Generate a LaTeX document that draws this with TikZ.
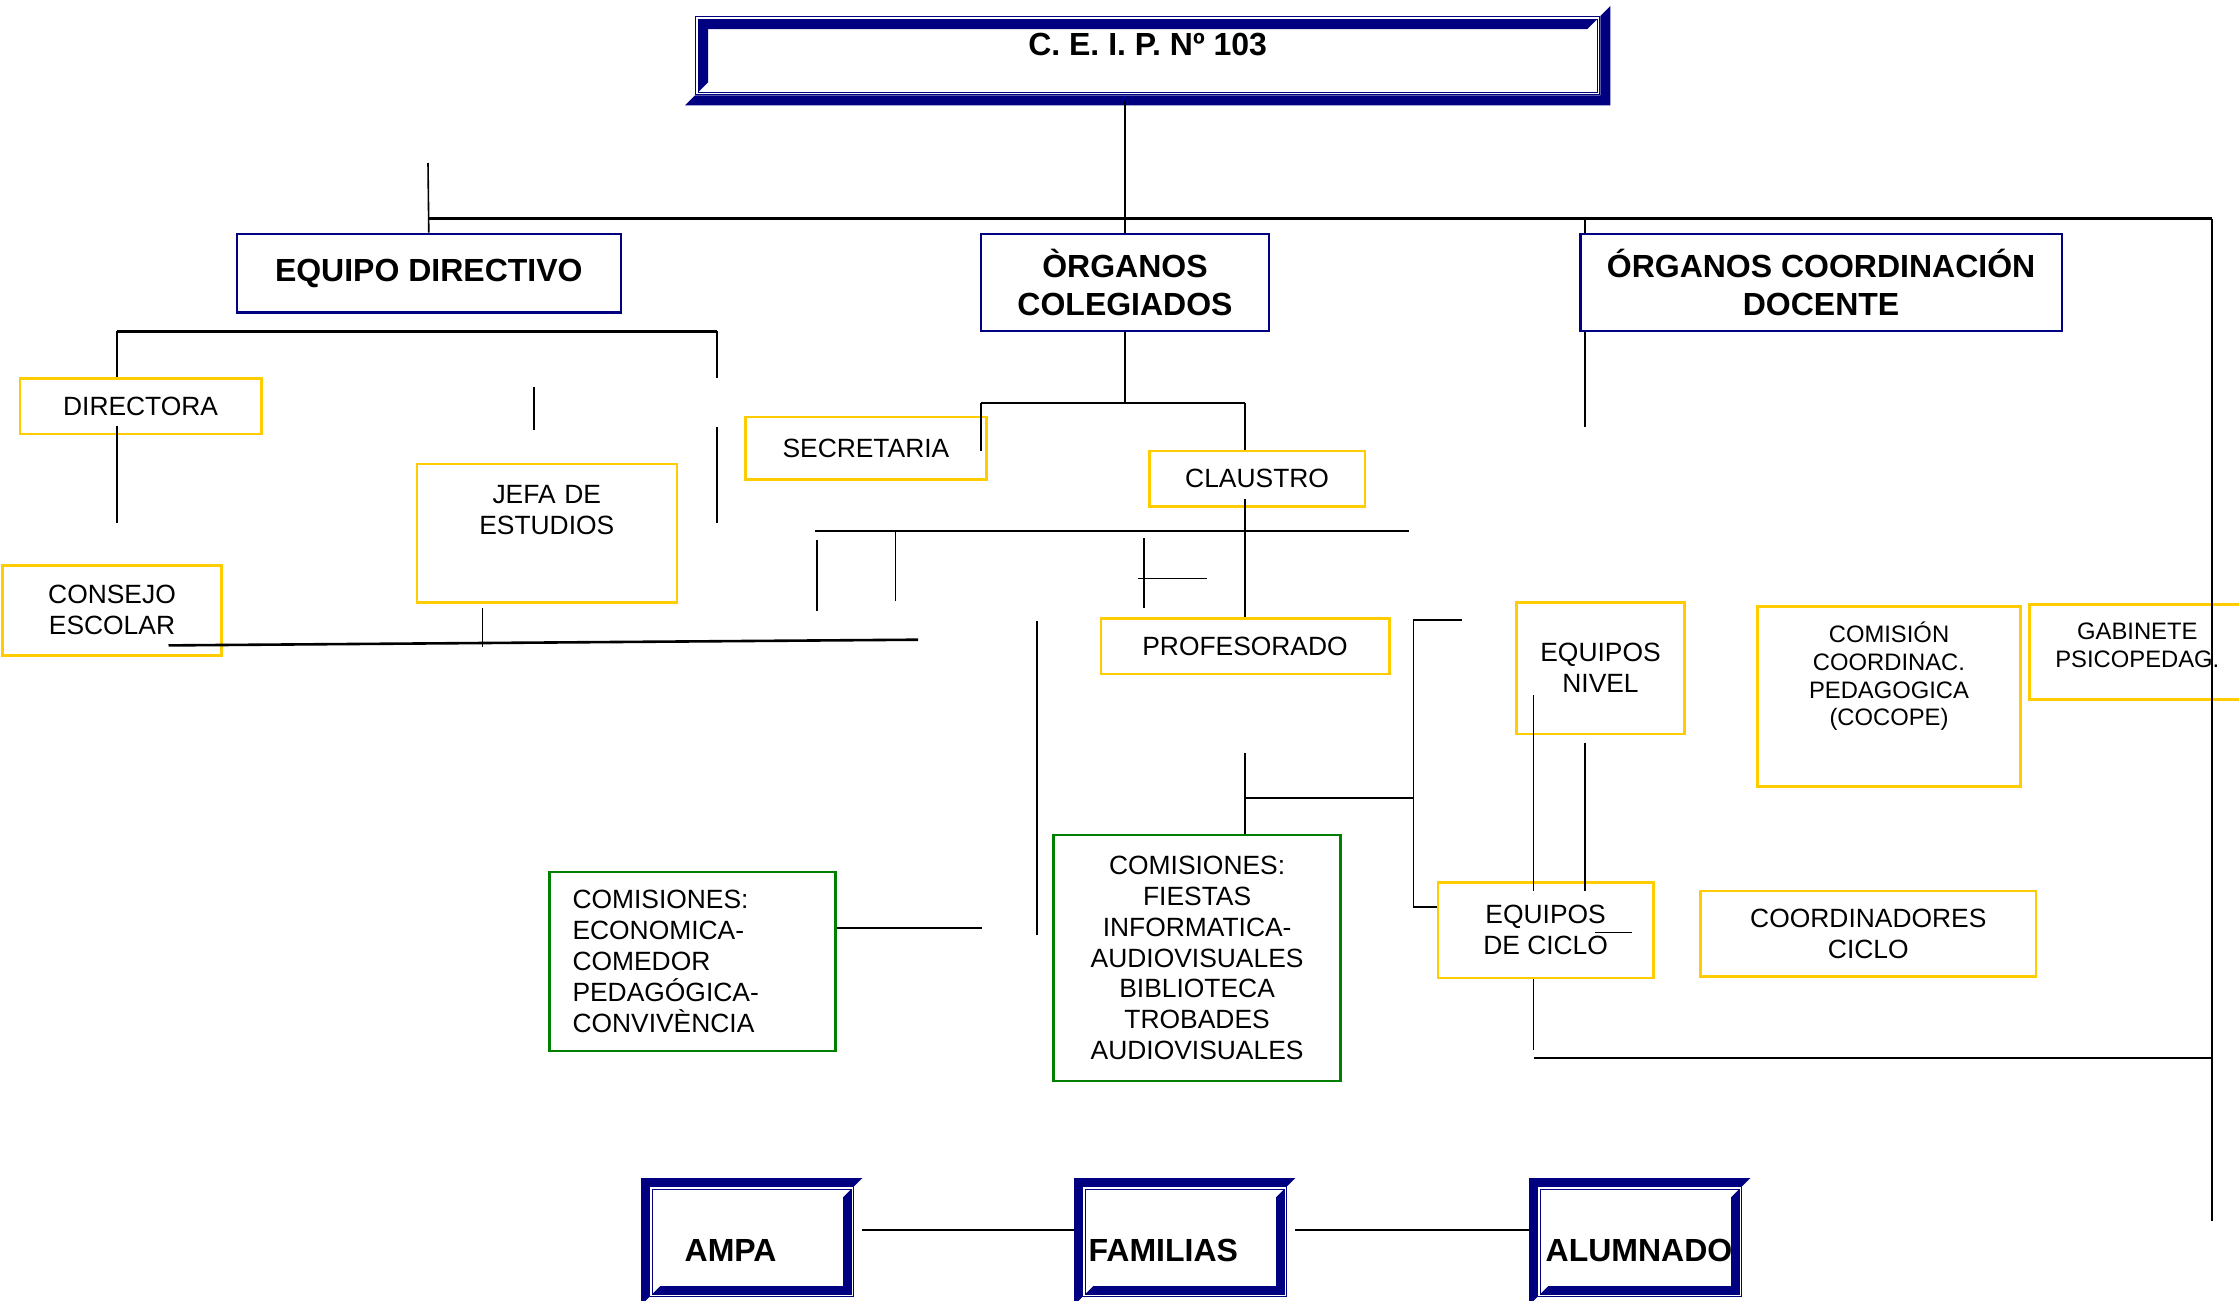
\documentclass[tikz,border=0pt]{standalone}
\usepackage{fontspec}
\setmainfont{Liberation Sans}
\usepackage{xcolor}
\usetikzlibrary{positioning}

\definecolor{navy}{RGB}{0,0,128}
\definecolor{gold}{RGB}{255,204,0}
\definecolor{leaf}{RGB}{0,128,0}

% 3D frame: dark band inside top/left, shadow outside bottom/right
\newcommand{\sunkframe}[2]{%
  \fill[navy] ([shift={(-#2,-#2)}]#1.south west) -- ([shift={(#2,-#2)}]#1.south east)
    -- ([shift={(#2,#2)}]#1.north east) -- (#1.north east) -- (#1.south east) -- (#1.south west) -- cycle;
  \fill[navy] ([shift={(1.6pt,1.6pt)}]#1.south west) -- ([shift={(1.6pt,-1.6pt)}]#1.north west)
    -- ([shift={(-1.6pt,-1.6pt)}]#1.north east) -- ([shift={(-1.6pt-#2,-1.6pt-#2)}]#1.north east)
    -- ([shift={(1.6pt+#2,-1.6pt-#2)}]#1.north west) -- ([shift={(1.6pt+#2,1.6pt+#2)}]#1.south west) -- cycle;
  \draw[navy, line width=0.6pt] ([shift={(1.6pt,1.6pt)}]#1.south west) rectangle ([shift={(-1.6pt,-1.6pt)}]#1.north east);
}
% 3D frame: band outside top/left, dark band inside bottom/right
\newcommand{\raiseframe}[2]{%
  \fill[navy] ([shift={(-#2,-#2)}]#1.south west) -- ([shift={(-#2,#2)}]#1.north west)
    -- ([shift={(#2,#2)}]#1.north east) -- (#1.north east) -- (#1.north west) -- (#1.south west) -- cycle;
  \fill[navy] ([shift={(1.6pt,1.6pt)}]#1.south west) -- ([shift={(-1.6pt,1.6pt)}]#1.south east)
    -- ([shift={(-1.6pt,-1.6pt)}]#1.north east) -- ([shift={(-1.6pt-#2,-1.6pt-#2)}]#1.north east)
    -- ([shift={(-1.6pt-#2,1.6pt+#2)}]#1.south east) -- ([shift={(1.6pt+#2,1.6pt+#2)}]#1.south west) -- cycle;
  \draw[navy, line width=0.6pt] ([shift={(1.6pt,1.6pt)}]#1.south west) rectangle ([shift={(-1.6pt,-1.6pt)}]#1.north east);
}

\begin{document}
\begin{tikzpicture}[
  x=0.5pt, y=-0.5pt,
  head/.style={draw=navy, line width=1.2pt, anchor=north west, inner sep=0pt, align=center, font=\bfseries\fontsize{16}{18.6}\selectfont},
  ybox/.style={draw=gold, line width=1.3pt, anchor=north west, inner sep=0pt, align=center, font=\fontsize{13.2}{15.4}\selectfont},
  smalltxt/.style={font=\fontsize{11.9}{13.9}\selectfont},
  gbox/.style={draw=leaf, line width=1.2pt, anchor=north west, inner sep=0pt, font=\fontsize{13.2}{15.4}\selectfont},
  bevbox/.style={draw=navy, line width=0.65pt, anchor=north west, inner sep=0pt, font=\bfseries\fontsize{16}{18.6}\selectfont},
  ln/.style={line width=0.8pt},
  busln/.style={line width=1.3pt}
]
\useasboundingbox (0,0) rectangle (2239,1301);

% headings
\node[bevbox, minimum width=452pt, minimum height=39pt, text height=0pt, text depth=0pt] (title) at (695,16) {C. E. I. P. Nº 103};
\node[head, minimum width=192pt, minimum height=39.3pt] (eqdir) at (235.6,232.7) {EQUIPO DIRECTIVO};
\node[head, minimum width=144.2pt, minimum height=48.5pt] (orgcol) at (979.6,232.7) {ÒRGANOS\\COLEGIADOS};
\node[head, minimum width=240.6pt, minimum height=48.5pt] (orgcoord) at (1579.3,232.7) {ÓRGANOS COORDINACIÓN\\DOCENTE};

% yellow boxes
\node[ybox, minimum width=120.7pt, minimum height=27.8pt] (directora) at (18.6,377) {DIRECTORA};
\node[ybox, text width=122pt, inner xsep=4pt, inner ysep=10.3pt, text height=9.5pt, text depth=39.2pt] (jefa) at (415.5,462.6) {JEFA DE\\ESTUDIOS};
\node[ybox, minimum width=109.3pt, minimum height=45pt] (consejo) at (1.4,564) {CONSEJO\\ESCOLAR};
\node[ybox, minimum width=120.7pt, minimum height=31.4pt] (secretaria) at (743.9,415.5) {SECRETARIA};
\node[ybox, minimum width=107.8pt, minimum height=27.8pt] (claustro) at (1148,449.8) {CLAUSTRO};
\node[ybox, minimum width=144.2pt, minimum height=27.8pt] (profesorado) at (1099.5,616.9) {PROFESORADO};
\node[ybox, minimum width=84.2pt, minimum height=65.7pt] (eqnivel) at (1515,601.1) {EQUIPOS\\NIVEL};
\node[ybox, smalltxt, text width=123pt, inner xsep=4.2pt, inner ysep=9.35pt, text height=8.5pt, text depth=62.75pt] (cocope) at (1756.3,605.4) {COMISIÓN\\COORDINAC.\\PEDAGOGICA\\(COCOPE)};
\node[ybox, smalltxt, minimum width=108pt, minimum height=47.5pt, text depth=6.4pt] (gabinete) at (2028,603) {GABINETE\\PSICOPEDAG.};
\node[ybox, minimum width=107.8pt, minimum height=47.8pt] (eqciclo) at (1436.5,881) {EQUIPOS\\DE CICLO};
\node[ybox, minimum width=167.8pt, minimum height=42.8pt] (coordciclo) at (1699.2,889.6) {COORDINADORES\\CICLO};

% green boxes
\node[gbox, align=left, text width=120pt, inner xsep=11.5pt, minimum height=89.3pt] (comleft) at (548.3,871) {COMISIONES:\\ECONOMICA-\\COMEDOR\\PEDAGÓGICA-\\CONVIVÈNCIA};
\node[gbox, align=center, minimum width=143.5pt, minimum height=122.8pt] (commid) at (1052.4,833.9) {COMISIONES:\\FIESTAS\\INFORMATICA-\\AUDIOVISUALES\\BIBLIOTECA\\TROBADES\\AUDIOVISUALES};

% bottom row
\node[bevbox, align=left, text width=67pt, inner xsep=17.5pt, minimum height=55pt, text height=20pt, text depth=0pt] (ampa) at (649,1186) {AMPA};
\node[bevbox, align=left, text width=96pt, inner xsep=3pt, minimum height=55pt, text height=20pt, text depth=0pt] (familias) at (1082,1186) {FAMILIAS};
\node[bevbox, align=left, text width=94pt, inner xsep=4pt, minimum height=55pt, text height=20pt, text depth=0pt] (alumnado) at (1537,1186) {ALUMNADO};

\sunkframe{title}{5pt}
\raiseframe{ampa}{4pt}
\raiseframe{familias}{4pt}
\raiseframe{alumnado}{4pt}

% free ends
\coordinate (tbot) at (1125,101);
\coordinate (busL) at (428,218.5);
\coordinate (busR) at (2212,218.5);
\coordinate (rbot) at (2212,1221);
\coordinate (edtop) at (428,163);
\coordinate (occ) at (1585,218.5);
\coordinate (ocend) at (1585,427);
\coordinate (ed1) at (117,331.3);
\coordinate (ed2) at (716.8,331.3);
\coordinate (ed3) at (716.8,378.4);
\coordinate (jt1) at (534,387);
\coordinate (jt2) at (534,430);
\coordinate (sr1) at (716.8,427);
\coordinate (sr2) at (716.8,522.6);
\coordinate (dr0) at (117,425.5);
\coordinate (dr1) at (117,522.6);
\coordinate (cs1) at (168.5,645.4);
\coordinate (cs2) at (918.1,639.7);
\coordinate (jt3) at (482.6,608.3);
\coordinate (jt4) at (482.6,647);
\coordinate (oc1) at (981,402.7);
\coordinate (oc2) at (1245.2,402.7);
\coordinate (sec1) at (981,451.2);
\coordinate (cl1) at (1245,499);
\coordinate (h1) at (815.4,531.2);
\coordinate (h2) at (1409.4,531.2);
\coordinate (v1a) at (816.8,539.8);
\coordinate (v1b) at (816.8,611.2);
\coordinate (v2a) at (895.3,531.2);
\coordinate (v2b) at (895.3,601.1);
\coordinate (v3a) at (1143.8,538.3);
\coordinate (v3b) at (1143.8,608.3);
\coordinate (t1) at (1138,578.3);
\coordinate (t2) at (1206.6,578.3);
\coordinate (v4a) at (1036.7,621.1);
\coordinate (v4b) at (1036.7,935.3);
\coordinate (p1) at (1245,752.5);
\coordinate (p2) at (1413.6,798.2);
\coordinate (p3) at (1413.6,619.7);
\coordinate (p4) at (1462.2,619.7);
\coordinate (p5) at (1413.6,906.7);
\coordinate (n1) at (1533.6,695.4);
\coordinate (n2) at (1533.6,891);
\coordinate (n3) at (1585,742.5);
\coordinate (n4) at (1585,891);
\coordinate (n5) at (1595,932.4);
\coordinate (n6) at (1632,932.4);
\coordinate (c1) at (1533.6,1049.5);
\coordinate (c2) at (1533.6,1058);
\coordinate (cm1) at (982.4,928.1);

% top level
\draw[ln] (orgcol.north) -- (orgcol.north |- tbot);
\draw[busln] (busL) -- (busR);
\draw[ln] (edtop) -- (eqdir.north);
\draw[ln] (busR) -- (rbot);
\draw[ln] (occ) -- (occ |- orgcoord.north);
\draw[ln] (ocend |- orgcoord.south) -- (ocend);

% equipo directivo
\draw[busln] (ed1) -- (ed2);
\draw[ln] (ed1) -- (ed1 |- directora.north);
\draw[ln] (ed2) -- (ed3);
\draw[ln] (jt1) -- (jt2);
\draw[ln] (sr1) -- (sr2);
\draw[ln] (dr0) -- (dr1);
\draw[busln] (cs1) -- (cs2);
\draw[ln] (jt3) -- (jt4);

% organos colegiados
\draw[ln] (orgcol.south) -- (orgcol.south |- oc1);
\draw[ln] (oc1) -- (oc2);
\draw[ln] (oc1) -- (sec1);
\draw[ln] (oc2) -- (oc2 |- claustro.north);
\draw[ln] (cl1) -- (cl1 |- profesorado.north);
\draw[ln] (h1) -- (h2);
\draw[ln] (v1a) -- (v1b);
\draw[ln] (v2a) -- (v2b);
\draw[ln] (v3a) -- (v3b);
\draw[ln] (t1) -- (t2);
\draw[ln] (v4a) -- (v4b);
\draw[ln] (p1) -- (p1 |- commid.north);
\draw[ln] (p1 |- p2) -- (p2);
\draw[ln] (p4) -- (p3) -- (p5) -- (p5 -| eqciclo.west);
\draw[ln] (comleft.east |- cm1) -- (cm1);

% coordinacion docente
\draw[ln] (n1) -- (n2);
\draw[ln] (n3) -- (n4);
\draw[ln] (n5) -- (n6);
\draw[ln] (c1 |- eqciclo.south) -- (c1);
\draw[ln] (c2) -- (c2 -| busR);

% bottom row
\draw[ln] ([shift={(4pt,5.8pt)}]ampa.east) -- ([shift={(-4pt,5.8pt)}]familias.west);
\draw[ln] ([shift={(4pt,5.8pt)}]familias.east) -- ([shift={(-4pt,5.8pt)}]alumnado.west);
\end{tikzpicture}
\end{document}
